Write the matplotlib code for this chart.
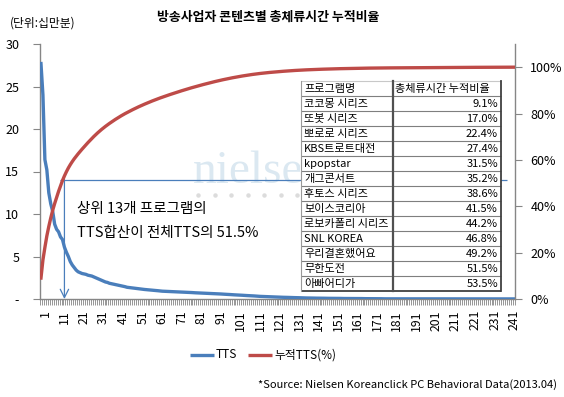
import numpy as np
import matplotlib
matplotlib.use('Agg')
import matplotlib.pyplot as plt
from matplotlib.patches import Rectangle
from matplotlib.lines import Line2D
import matplotlib.transforms as mtransforms

plt.rcParams['font.family'] = ['Noto Sans CJK KR', 'DejaVu Sans']

# ---------------- data ----------------
# TTS per program (unit: 100,000 minutes), ranked
tts = [
    27.7, 24.0, 16.4, 15.2, 12.5, 11.2, 10.3, 8.8, 8.2, 7.9, 7.3, 7.0, 6.1,
    5.5, 5.0, 4.4, 4.0, 3.7, 3.4, 3.2, 3.1,
    3.0, 2.95, 2.9, 2.8, 2.75, 2.7, 2.6,
    2.5, 2.4, 2.3, 2.2, 2.1, 2.0, 1.95, 1.85,
    1.8, 1.75, 1.7, 1.65, 1.6, 1.55, 1.5, 1.45, 1.38,
    1.35, 1.33, 1.3, 1.27, 1.24, 1.21, 1.18, 1.15, 1.12, 1.10, 1.08, 1.06, 1.04, 1.02, 1.0, 0.97, 0.94,
    0.92, 0.91, 0.90, 0.89, 0.87, 0.86, 0.85, 0.84, 0.83, 0.82, 0.81, 0.80, 0.79, 0.78, 0.77, 0.76, 0.74,
    0.73, 0.72, 0.71, 0.70, 0.69, 0.68, 0.67, 0.66, 0.65, 0.64, 0.63, 0.62, 0.60, 0.59,
    0.57, 0.56, 0.55, 0.53, 0.52, 0.50, 0.49, 0.48, 0.46, 0.45, 0.44, 0.42,
    0.41, 0.40, 0.38, 0.37, 0.36, 0.34, 0.33, 0.31, 0.30, 0.29, 0.27, 0.26,
    0.25, 0.24, 0.24, 0.23, 0.22, 0.22, 0.21, 0.20, 0.20, 0.19, 0.18, 0.18, 0.17, 0.16, 0.16, 0.15,
    0.14, 0.13, 0.13, 0.12, 0.12, 0.11, 0.11, 0.10, 0.10, 0.10,
    0.09, 0.09, 0.09, 0.08, 0.08, 0.08, 0.08, 0.07, 0.07, 0.07,
    0.07, 0.06, 0.06, 0.06, 0.06, 0.06, 0.05, 0.05, 0.05, 0.05,
    0.05, 0.05, 0.04, 0.04, 0.04, 0.04, 0.04, 0.04, 0.03, 0.03,
    0.03, 0.03,
    0.02, 0.02, 0.02, 0.02, 0.02, 0.02, 0.02, 0.02, 0.02, 0.02,
    0.02, 0.02, 0.02, 0.02, 0.02, 0.02, 0.02, 0.02, 0.02, 0.02,
    0.02, 0.02, 0.02, 0.02, 0.02, 0.02, 0.02, 0.02, 0.02, 0.02,
    0.02, 0.02, 0.02, 0.02,
    0.01, 0.01, 0.01, 0.01, 0.01, 0.01, 0.01, 0.01, 0.01, 0.01,
    0.01, 0.01, 0.01, 0.01, 0.01, 0.01, 0.01, 0.01, 0.01, 0.01,
    0.01, 0.01, 0.01, 0.01, 0.01, 0.01, 0.01, 0.01, 0.01, 0.01,
    0.01, 0.01, 0.01, 0.01,
]
categories = list(range(1, len(tts) + 1))
cum_pct = np.cumsum(tts) / np.sum(tts) * 100

left_ticks = [0, 5, 10, 15, 20, 25, 30]
left_labels = ['-', '5', '10', '15', '20', '25', '30']
right_ticks = [0, 20, 40, 60, 80, 100]
right_labels = ['0%', '20%', '40%', '60%', '80%', '100%']
x_label_values = list(range(1, 242, 10))

prog_names = ['코코몽 시리즈', '또봇 시리즈', '뽀로로 시리즈', 'KBS트로트대전', 'kpopstar',
              '개그콘서트', '후토스 시리즈', '보이스코리아', '로보카폴리 시리즈', 'SNL KOREA',
              '우리결혼했어요', '무한도전', '아빠어디가']
prog_cum = ['9.1%', '17.0%', '22.4%', '27.4%', '31.5%', '35.2%', '38.6%', '41.5%',
            '44.2%', '46.8%', '49.2%', '51.5%', '53.5%']
table_header = ['프로그램명', '총체류시간 누적비율']

top_n = 13
top_share = 51.5

# ---------------- figure ----------------
W, H = 564, 397
BLUE = '#4A7EBB'
RED = '#BE4B48'
GRAY = '#868686'

fig = plt.figure(figsize=(W / 100, H / 100), dpi=100, facecolor='white')

ax = fig.add_axes([40 / W, 1 - 299 / H, 475 / W, 255 / H])
ax.patch.set_visible(False)
ax.plot(categories, tts, color=BLUE, lw=2.4, solid_joinstyle='round', zorder=3)
ax.set_xlim(0.5, len(tts) + 0.5)
ax.set_ylim(0, 30)
ax.set_yticks(left_ticks)
ax.set_yticklabels(left_labels)
ax.tick_params(axis='y', direction='out', length=5, color=GRAY, labelsize=9, pad=10)

ax.set_xticks(x_label_values)
ax.set_xticklabels([str(v) for v in x_label_values], rotation=90)
ax.set_xticks(np.arange(0.5, len(tts) + 1, 1.0), minor=True)
ax.tick_params(axis='x', which='major', length=0, labelsize=8.8, pad=8)
ax.tick_params(axis='x', which='minor', direction='out', length=4, color=GRAY, width=0.6)
offset = mtransforms.ScaledTranslation(4 / 100, 0, fig.dpi_scale_trans)
for lbl in ax.get_xticklabels():
    lbl.set_transform(lbl.get_transform() + offset)

for s in ['top', 'right']:
    ax.spines[s].set_visible(False)
for s in ['left', 'bottom']:
    ax.spines[s].set_color(GRAY)
    ax.spines[s].set_linewidth(1.0)

ax2 = ax.twinx()
ax2.patch.set_visible(False)
ax2.plot(categories, cum_pct, color=RED, lw=2.4, solid_joinstyle='round', zorder=3)
ax2.set_ylim(0, 110)
ax2.set_yticks(right_ticks)
ax2.set_yticklabels(right_labels)
ax2.tick_params(axis='y', direction='out', length=5, color=GRAY, labelsize=9, pad=6)
for s in ['top', 'left', 'bottom']:
    ax2.spines[s].set_visible(False)
ax2.spines['right'].set_color(GRAY)
ax2.spines['right'].set_linewidth(1.0)

# annotation lines
ax2.hlines(top_share, 10.7, 239.5, color=BLUE, lw=0.9, zorder=2)
y_top_left = top_share * 30 / 110
ax.annotate('', xy=(top_n, 0), xytext=(top_n, y_top_left),
            arrowprops=dict(arrowstyle='->,head_length=0.6,head_width=0.3',
                            color=BLUE, lw=0.9, shrinkA=0, shrinkB=0), zorder=2)

# watermark (behind, partly hidden by the table)
wm = fig.text(193 / W, 1 - 183 / H, 'nielsen', fontsize=34, family='Liberation Serif',
              color='#dbe8f1', ha='left', va='baseline', zorder=-1)
wm.set_clip_box(mtransforms.Bbox([[0, 0], [300, H]]))
dot_x = [198, 214.5, 231, 247.5, 264, 280.5, 297]
fig.add_artist(Line2D([x / W for x in dot_x], [1 - 195 / H] * len(dot_x),
                      transform=fig.transFigure, marker='o', ls='none', ms=3.2,
                      color='#dcdcdc', mec='none', zorder=-1))

# overlay in pixel coords
ov = fig.add_axes([0, 0, 1, 1], zorder=5)
ov.set_xlim(0, W)
ov.set_ylim(H, 0)
ov.axis('off')
ov.patch.set_visible(False)

ov.text(268, 17, '방송사업자 콘텐츠별 총체류시간 누적비율', fontsize=9.3, fontweight='bold',
        ha='center', va='center')
ov.text(10, 23, '(단위:십만분)', fontsize=8.5, ha='left', va='center')

ov.text(77, 209, '상위 13개 프로그램의', fontsize=10.5, ha='left', va='center')
ov.text(77, 233, 'TTS합산이 전체TTS의 51.5%', fontsize=10.5, ha='left', va='center')

# table
tx0, tx1, tx2 = 301, 393, 501
ty0, rh = 81, 15
rows = [table_header] + [[n, v] for n, v in zip(prog_names, prog_cum)]
nrow = len(rows)
ov.add_patch(Rectangle((tx0, ty0), tx2 - tx0, rh * nrow, facecolor='white',
                       edgecolor='none', zorder=1))
for i in range(nrow + 1):
    y = ty0 + i * rh
    col = '#c8c8c8' if i == 0 else ('#404040' if i == nrow else '#7f7f7f')
    lw = 0.8 if i < nrow else 1.3
    ov.plot([tx0, tx2], [y, y], color=col, lw=lw, zorder=2, solid_capstyle='butt')
ov.plot([tx0, tx0], [ty0, ty0 + rh * nrow], color='#9a9a9a', lw=0.8, zorder=2)
ov.plot([tx1, tx1], [ty0, ty0 + rh * nrow], color='#505050', lw=1.6, zorder=2)
ov.plot([tx2, tx2], [ty0, ty0 + rh * nrow], color='#404040', lw=1.3, zorder=2)
for i, (a, b) in enumerate(rows):
    yc = ty0 + i * rh + rh / 2 + 0.5
    ov.text(tx0 + 3, yc, a, fontsize=8, ha='left', va='center', zorder=3)
    if i == 0:
        ov.text(tx1 + 2, yc, b, fontsize=8, ha='left', va='center', zorder=3)
    else:
        ov.text(tx2 - 3, yc, b, fontsize=8, ha='right', va='center', zorder=3)

# legend
ov.plot([190, 214], [355, 355], color=BLUE, lw=2.4, solid_capstyle='butt')
ov.text(216, 355, 'TTS', fontsize=8.5, ha='left', va='center')
ov.plot([248, 272], [355, 355], color=RED, lw=2.4, solid_capstyle='butt')
ov.text(274, 355, '누적TTS(%)', fontsize=8.5, ha='left', va='center')

ov.text(557, 385, '*Source: Nielsen Koreanclick PC Behavioral Data(2013.04)', fontsize=8,
        ha='right', va='center')

fig.savefig('out.png', dpi=100, facecolor='white')
